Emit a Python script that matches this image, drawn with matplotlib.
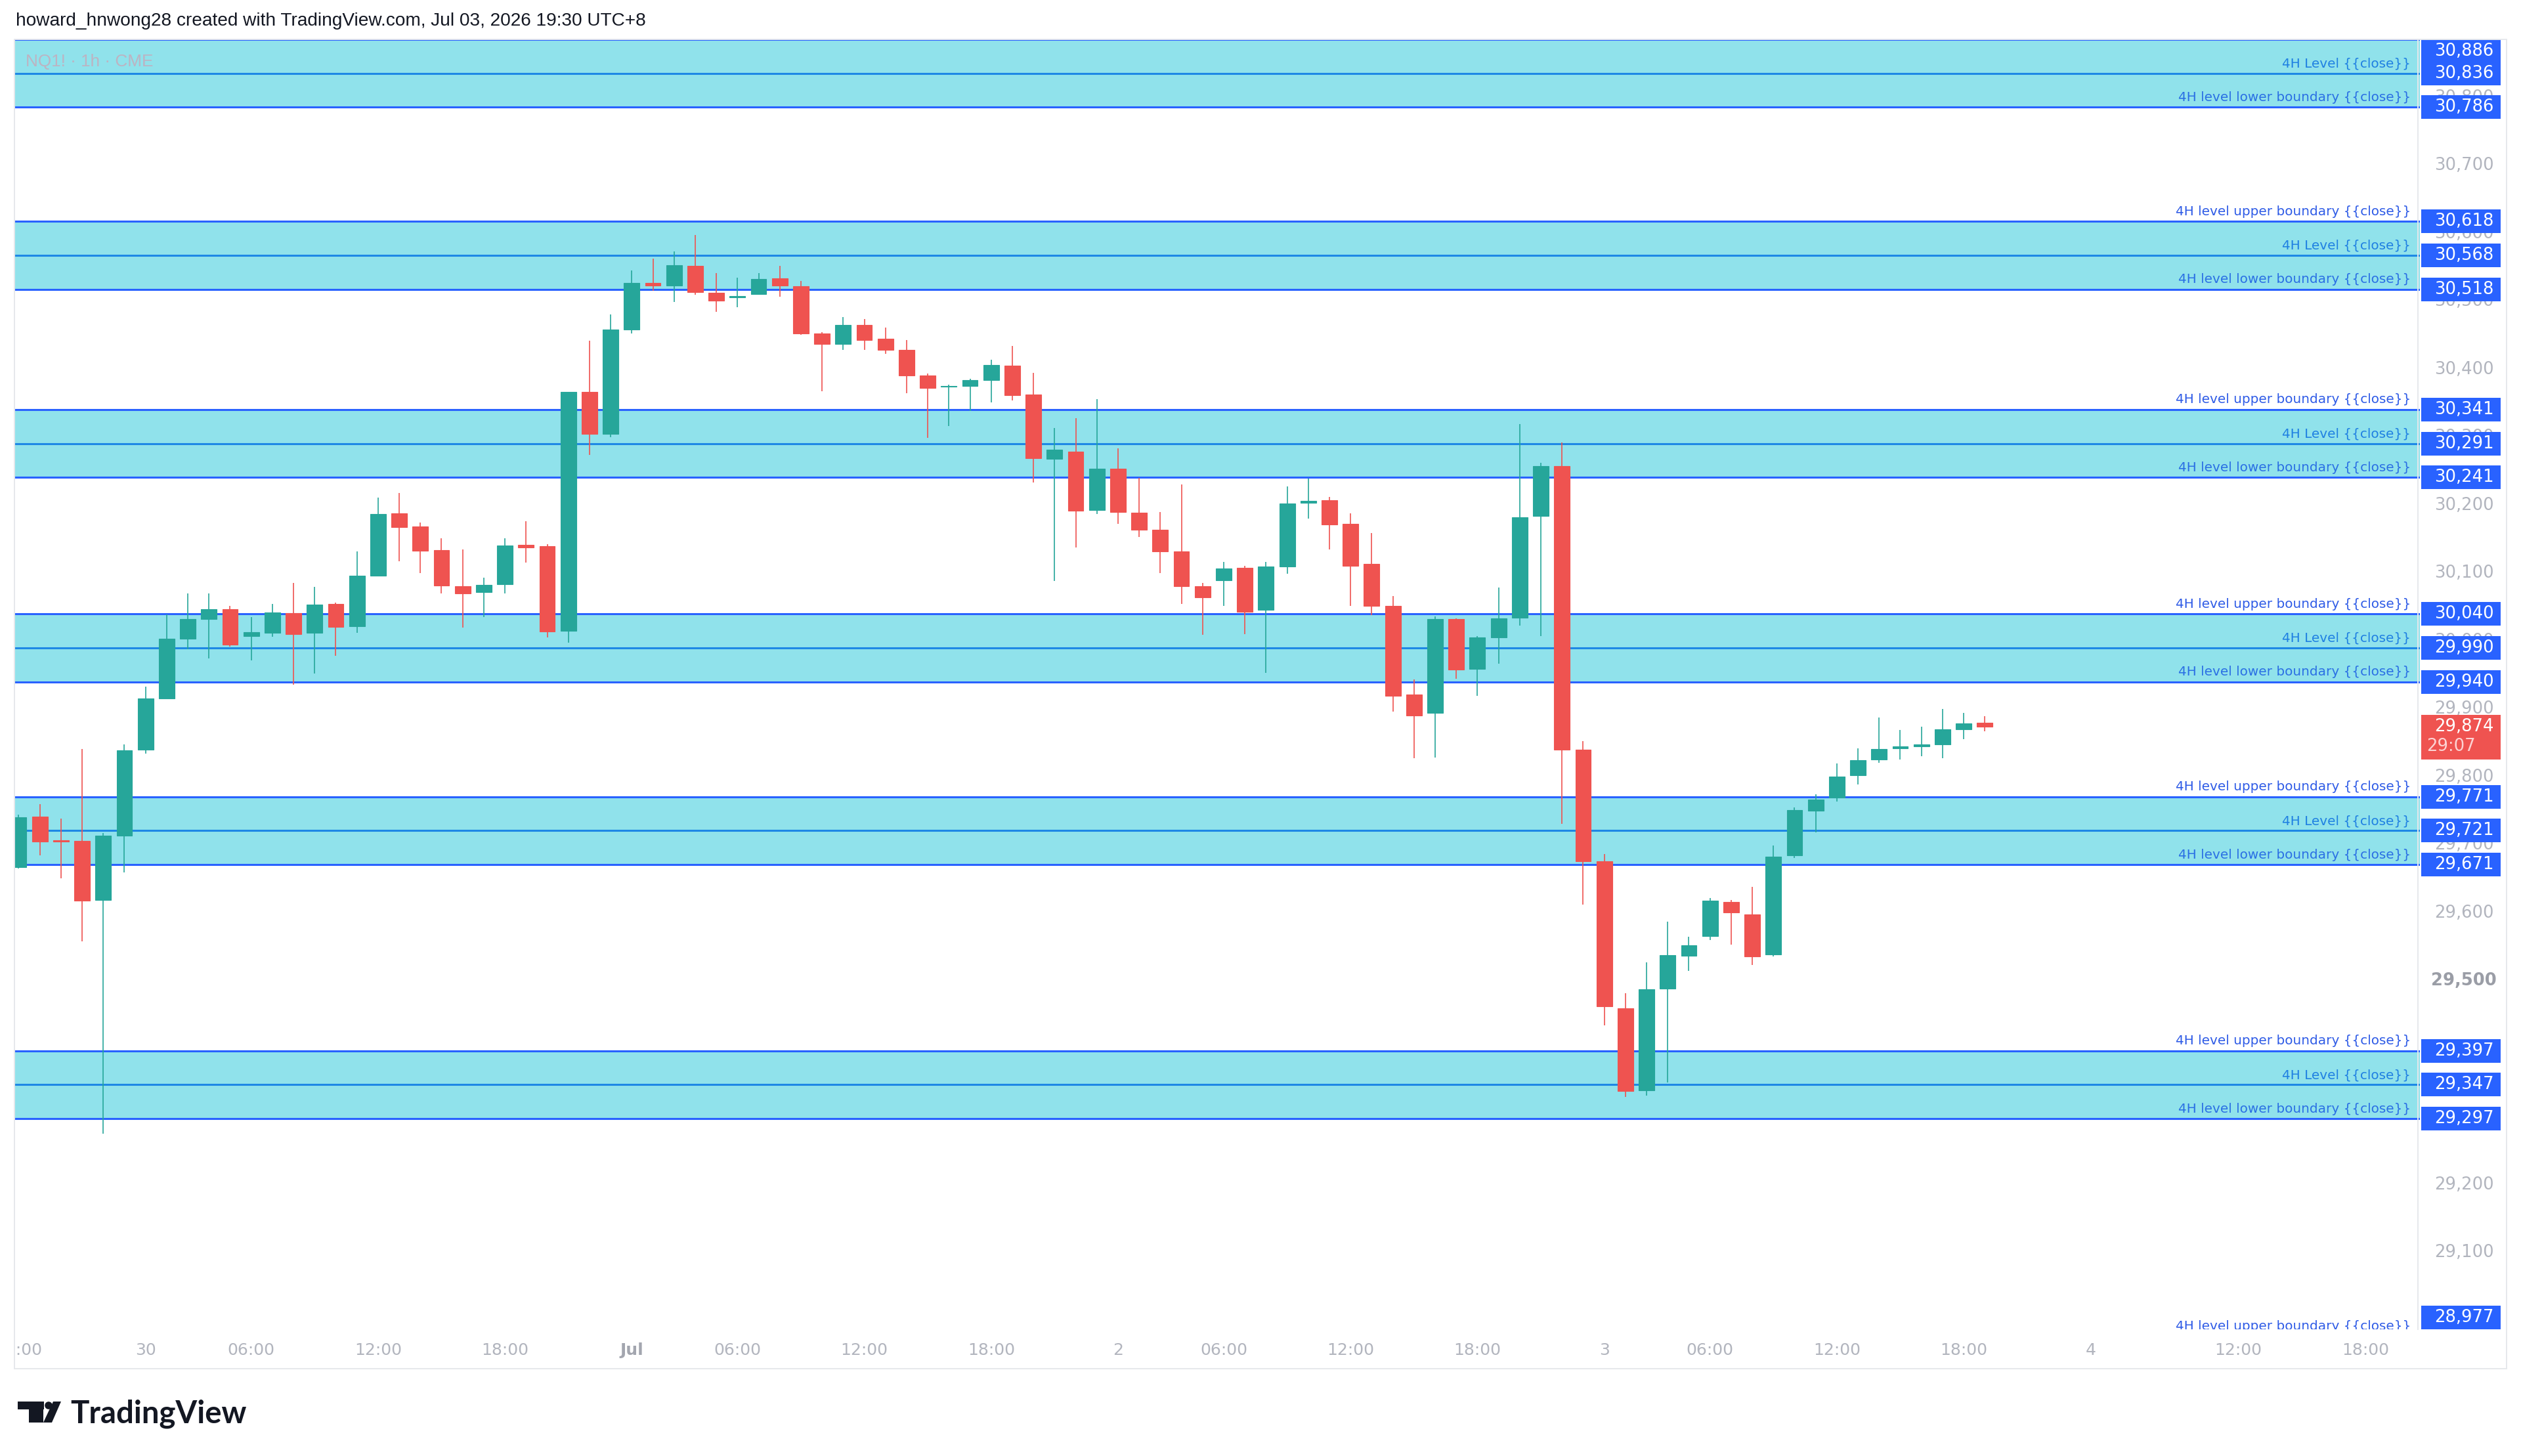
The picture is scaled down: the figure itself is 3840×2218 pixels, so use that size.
import matplotlib
matplotlib.use('Agg')
import matplotlib.pyplot as plt
import matplotlib.transforms as mtransforms
from matplotlib.patches import Rectangle, Circle, Polygon
from matplotlib.lines import Line2D
import numpy as np

# NQ1! 1h candles, first bar = Jun 29 18:00
opens = [29667, 29742, 29707, 29706, 29619, 29714, 29840, 29916, 30004, 30033,
         30047, 30008, 30012, 30041, 30012, 30055, 30022, 30096, 30188, 30169,
         30134, 30081, 30072, 30084, 30142, 30140, 30015, 30367, 30305, 30459,
         30527, 30524, 30553, 30513, 30506, 30511, 30534, 30523, 30453, 30438,
         30466, 30445, 30429, 30391, 30375, 30376, 30384, 30406, 30363, 30268,
         30279, 30193, 30254, 30189, 30164, 30132, 30081, 30090, 30108, 30046,
         30110, 30204, 30208, 30173, 30114, 30052, 29922, 29894, 30033, 29959,
         30006, 30035, 30184, 30258, 29840, 29676, 29460, 29339, 29489, 29537,
         29566, 29616, 29598, 29539, 29685, 29750, 29770, 29803, 29826, 29842,
         29845, 29848, 29870, 29880]
highs = [29745, 29760, 29739, 29841, 29718, 29848, 29933, 30039, 30070, 30070,
         30052, 30036, 30055, 30086, 30080, 30057, 30132, 30211, 30218, 30175,
         30152, 30135, 30094, 30152, 30177, 30143, 30367, 30442, 30481, 30546,
         30563, 30574, 30598, 30542, 30535, 30542, 30553, 30530, 30455, 30477,
         30474, 30462, 30443, 30394, 30378, 30386, 30414, 30435, 30395, 30314,
         30328, 30356, 30284, 30240, 30190, 30231, 30086, 30117, 30111, 30117,
         30228, 30239, 30212, 30188, 30159, 30066, 29944, 30037, 30034, 30008,
         30079, 30320, 30263, 30293, 29853, 29687, 29482, 29527, 29587, 29565,
         29622, 29619, 29638, 29699, 29755, 29775, 29820, 29842, 29888, 29869,
         29874, 29900, 29894, 29890]
lows = [29665, 29685, 29651, 29558, 29275, 29660, 29835, 29916, 29988, 29975,
        29992, 29972, 30007, 29936, 29952, 29979, 30012, 30096, 30118, 30100,
        30070, 30020, 30036, 30070, 30116, 30006, 29998, 30274, 30300, 30453,
        30516, 30499, 30510, 30485, 30492, 30510, 30507, 30451, 30368, 30429,
        30429, 30423, 30365, 30299, 30317, 30339, 30352, 30354, 30234, 30089,
        30138, 30187, 30173, 30153, 30100, 30055, 30009, 30052, 30010, 29953,
        30099, 30181, 30135, 30052, 30038, 29896, 29828, 29829, 29945, 29920,
        29967, 30023, 30008, 29731, 29612, 29434, 29329, 29331, 29350, 29515,
        29560, 29553, 29523, 29536, 29681, 29719, 29764, 29789, 29821, 29826,
        29831, 29828, 29856, 29867]
closes = [29741, 29705, 29705, 29618, 29714, 29839, 29916, 30004, 30033, 30047,
          29995, 30013, 30042, 30010, 30054, 30021, 30096, 30187, 30168, 30133,
          30082, 30070, 30083, 30141, 30138, 30014, 30367, 30305, 30459, 30527,
          30524, 30554, 30514, 30501, 30508, 30533, 30524, 30453, 30438, 30466,
          30443, 30429, 30391, 30373, 30376, 30384, 30407, 30362, 30269, 30282,
          30192, 30254, 30190, 30164, 30132, 30081, 30065, 30107, 30043, 30110,
          30203, 30207, 30172, 30111, 30052, 29920, 29891, 30033, 29958, 30006,
          30034, 30182, 30258, 29840, 29676, 29462, 29338, 29488, 29538, 29552,
          29618, 29601, 29536, 29683, 29751, 29767, 29801, 29825, 29841, 29845,
          29848, 29870, 29879, 29874]

# 4H zones: upper boundary / level / lower boundary
zone_upper = [30886, 30618, 30341, 30040, 29771, 29397, 28977]
zone_level = [30836, 30568, 30291, 29990, 29721, 29347, 28927]
zone_lower = [30786, 30518, 30241, 29940, 29671, 29297, 28877]

price_ticks = [29000, 29100, 29200, 29300, 29400, 29500, 29600, 29700, 29800, 29900,
               30000, 30100, 30200, 30300, 30400, 30500, 30600, 30700, 30800]

time_pos = [0, 6, 11, 17, 23, 29, 34, 40, 46, 52, 57, 63, 69, 75, 80, 86, 92, 98, 105, 111]
time_text = ['18:00', '30', '06:00', '12:00', '18:00', 'Jul', '06:00', '12:00', '18:00', '2',
             '06:00', '12:00', '18:00', '3', '06:00', '12:00', '18:00', '4', '12:00', '18:00']

last_price = 29874
countdown = '29:07'
header = 'howard_hnwong28 created with TradingView.com, Jul 03, 2026 19:30 UTC+8'
symbol = 'NQ1! \u00b7 1h \u00b7 CME'

W, H, DPI = 3840, 2218, 200
GREEN, RED, BLUE = '#26a69a', '#ef5350', '#2962ff'
ZONE_FILL = '#90e2eb'
GREY = '#b2b5be'
XLIM = (-0.2, 113.58)
YLIM = (28987, 30886)


def fbox(x0, y0, x1, y1):
    # pixel box (top-left origin) -> figure fraction rect
    return [x0 / W, 1 - y1 / H, (x1 - x0) / W, (y1 - y0) / H]


fig = plt.figure(figsize=(W / DPI, H / DPI), dpi=DPI, facecolor='white')

# ---- main pane
ax = fig.add_axes(fbox(22, 60, 3686, 2025))
ax.set_xlim(*XLIM)
ax.set_ylim(*YLIM)
ax.axis('off')

o = np.array(opens)
c = np.array(closes)
x = np.arange(len(o))
col = np.where(c >= o, GREEN, RED)
ax.vlines(x, lows, highs, colors=col, lw=0.6, zorder=5)
ax.bar(x, np.maximum(np.abs(c - o), 1), bottom=np.minimum(o, c), width=0.74,
       color=col, edgecolor=col, lw=0.4, zorder=6)

lbl_tr = mtransforms.blended_transform_factory(ax.transAxes, ax.transData)
for up, lv, lo in zip(zone_upper, zone_level, zone_lower):
    ax.axhspan(lo, up, color=ZONE_FILL, lw=0, zorder=1)
    ax.axhline(up, color=BLUE, lw=1.1, zorder=2)
    ax.axhline(lv, color='#1e88e5', lw=1.1, zorder=2)
    ax.axhline(lo, color=BLUE, lw=1.1, zorder=2)
    for p, txt, tc in [(up, '4H level upper boundary {{close}}', '#2e5be6'),
                       (lv, '4H Level {{close}}', '#1f80e2'),
                       (lo, '4H level lower boundary {{close}}', '#2a6fe4')]:
        ax.annotate(txt, xy=(0.9962, p), xycoords=lbl_tr, xytext=(0, 3.4),
                    textcoords='offset points', ha='right', va='baseline',
                    fontsize=7.2, color=tc, zorder=8, clip_on=True,
                    annotation_clip=False)

# ---- price axis
axr = fig.add_axes(fbox(3686, 60, 3818, 2025))
axr.set_xlim(0, 1)
axr.set_ylim(*YLIM)
axr.axis('off')

# tick labels sit under the level boxes, like on the screenshot
for p in price_ticks:
    bold = p == 29500
    axr.text(0.51, p, f'{p:,}', ha='center', va='center', fontsize=9.3,
             color='#9a9da6' if bold else GREY, fontweight='bold' if bold else 'normal',
             zorder=1, clip_on=True)

unit = (YLIM[1] - YLIM[0]) / 1965.0  # price per pixel
half = 18 * unit
levels = sorted(zone_upper + zone_level + zone_lower, reverse=True)
z = 2
for p in levels:
    if p < YLIM[0] - half or p > YLIM[1] + half:
        continue
    yc = min(max(p, YLIM[0] + half), YLIM[1] - half)
    axr.add_patch(Rectangle((0.015, yc - half), 0.917, 2 * half, fc=BLUE, ec='none', zorder=z))
    axr.text(0.51, yc, f'{p:,}', ha='center', va='center', fontsize=9.3,
             color='white', zorder=z + 1)
    z += 2

axr.add_patch(Rectangle((0.015, last_price - 50 * unit), 0.917, 68 * unit,
                        fc=RED, ec='none', zorder=z))
axr.text(0.51, last_price, f'{last_price:,}', ha='center', va='center',
         fontsize=9.3, color='white', zorder=z + 1)
axr.text(0.36, last_price - 30 * unit, countdown, ha='center', va='center',
         fontsize=9.3, color='#fcd2d2', zorder=z + 1)

# ---- time axis
axt = fig.add_axes(fbox(22, 2025, 3686, 2085))
axt.set_xlim(*XLIM)
axt.set_ylim(0, 1)
axt.axis('off')
for xi, t in zip(time_pos, time_text):
    is_month = t == 'Jul'
    axt.text(xi, 0.47, t, ha='center', va='center', fontsize=9,
             color='#a3a6af' if is_month else GREY,
             fontweight='bold' if is_month else 'normal', clip_on=True)

# ---- frame
frame = '#e6e8ec'
for (x0, y0, x1, y1) in [(22, 60, 3818, 60), (22, 60, 22, 2085), (3818, 60, 3818, 2085),
                         (22, 2085, 3818, 2085), (3683, 60, 3683, 2025)]:
    fig.add_artist(Line2D([x0 / W, x1 / W], [1 - y0 / H, 1 - y1 / H], color=frame,
                          lw=0.7, transform=fig.transFigure))

# ---- texts
fig.text(24 / W, 1 - 32 / H, header, fontsize=10.1, family='Liberation Sans',
         va='center', ha='left', color='#131722')
fig.text(39 / W, 1 - 94 / H, symbol, fontsize=9.4, family='Liberation Sans',
         va='center', ha='left', color='#bdb3c2', zorder=10)

# TradingView logo
px = mtransforms.Affine2D().scale(1 / W, -1 / H).translate(0, 1) + fig.transFigure
dark = '#131722'
fig.add_artist(Rectangle((27, 2135), 40, 12, fc=dark, ec='none', transform=px))
fig.add_artist(Rectangle((44, 2135), 22, 32, fc=dark, ec='none', transform=px))
fig.add_artist(Circle((74, 2141), 5.8, fc=dark, ec='none', transform=px))
fig.add_artist(Polygon([(66, 2167), (79, 2167), (93, 2135), (81, 2135)],
                       closed=True, fc=dark, ec='none', transform=px))
fig.text(107 / W, 1 - 2167 / H, 'TradingView', fontsize=17, family='Lato',
         fontweight='bold', va='baseline', ha='left', color=dark)

fig.savefig('out.png', dpi=DPI, facecolor='white')
